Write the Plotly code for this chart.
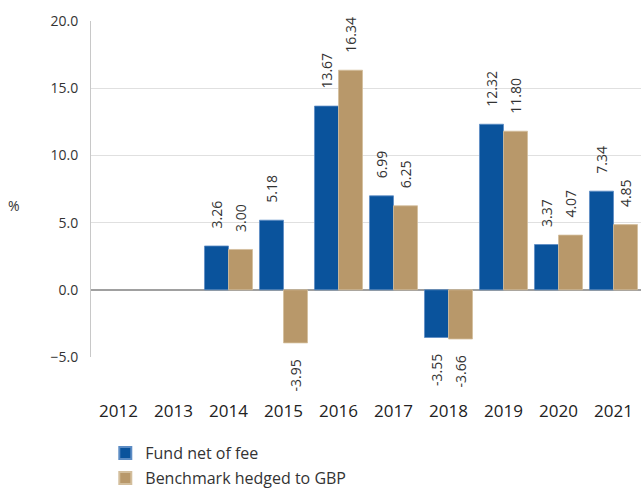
import plotly.graph_objects as go

years = ["2012", "2013", "2014", "2015", "2016", "2017", "2018", "2019", "2020", "2021"]
fund = [None, None, 3.26, 5.18, 13.67, 6.99, -3.55, 12.32, 3.37, 7.34]
bench = [None, None, 3.00, -3.95, 16.34, 6.25, -3.66, 11.80, 4.07, 4.85]
names = ["Fund net of fee", "Benchmark hedged to GBP"]
colors = ["#0A539C", "#B8986A"]
edge = ["#5C8CC4", "#D3BE9C"]

BARGAP = 0.127
FONT = "Open Sans"

fig = go.Figure()
for k, (vals, nm, c, e) in enumerate(zip([fund, bench], names, colors, edge)):
    fig.add_trace(go.Bar(x=years, y=vals, name=nm, legendgroup=f"g{k}",
                         marker=dict(color=c, line=dict(color=e, width=0.8))))

half = (1 - BARGAP) / 4
for s, vals in enumerate([fund, bench]):
    off = -half if s == 0 else half
    for i, v in enumerate(vals):
        if v is None:
            continue
        fig.add_annotation(
            x=i + off, y=v, xref="x", yref="y", text=f"{v:.2f}", textangle=-90,
            showarrow=False, yanchor="bottom" if v >= 0 else "top",
            yshift=15 if v >= 0 else -15,
            font=dict(family=FONT, size=14, color="#333333"),
        )

fig.add_annotation(x=-0.155, y=0.452, xref="paper", yref="paper", text="%", showarrow=False,
                   font=dict(family=FONT, size=14, color="#333333"))

fig.update_layout(
    width=641, height=489,
    margin=dict(l=91, r=0, t=21, b=132),
    paper_bgcolor="white", plot_bgcolor="white",
    barmode="group", bargap=BARGAP, bargroupgap=0,
    font=dict(family=FONT, size=14, color="#333333"),
    showlegend=True,
    legend=dict(x=0.026, xref="paper", y=0.108, yref="container", xanchor="left", yanchor="top",
                orientation="v", font=dict(family=FONT, size=16, color="#333333"),
                traceorder="grouped", tracegroupgap=1, itemsizing="constant"),
)
fig.update_xaxes(type="category", showgrid=False, showline=False, ticks="", automargin=False,
                 ticklabelstandoff=42, tickfont=dict(family=FONT, size=17, color="#222222"))
fig.update_yaxes(range=[-5, 20], dtick=5, tickformat=".1f", showgrid=True, gridcolor="#E0E0E0",
                 gridwidth=1, zeroline=True, zerolinecolor="#A0A0A0", zerolinewidth=1.5, automargin=False,
                 showline=True, linecolor="#C8C8C8", linewidth=1, ticks="", ticklabelstandoff=9,
                 tickfont=dict(family=FONT, size=14, color="#333333"))

fig.write_html("out.html", config={"displayModeBar": False},
               post_script="document.body.style.margin='0';document.body.style.overflow='hidden';")
